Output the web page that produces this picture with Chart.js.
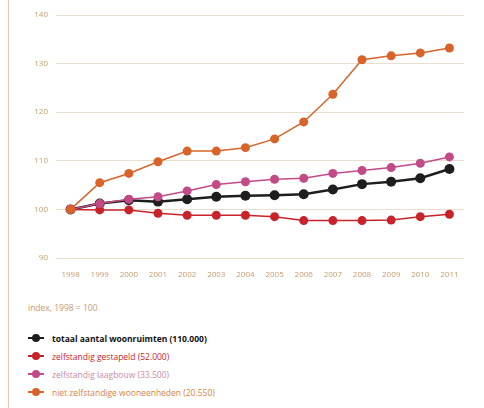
<!DOCTYPE html>
<html>
<head>
<meta charset="utf-8">
<script src="https://cdn.jsdelivr.net/npm/chart.js@4"></script>
<style>
  html, body { margin: 0; padding: 0; background: #fff; }
  #wrap { position: relative; width: 484px; height: 408px; overflow: hidden; }
  #rule { position: absolute; left: 8px; top: 0; width: 1px; height: 408px; background: #e6c9a8; }
  #chartBox { position: absolute; left: 0; top: 0; width: 484px; height: 285px; }
  #note { position: absolute; left: 28px; top: 302px; font: 8.5px "Open Sans", sans-serif; color: #c79a6c; }
  #legend { position: absolute; left: 28px; top: 329px; font-family: "Open Sans", sans-serif; font-size: 8.5px; }
  .item { height: 18px; display: flex; align-items: center; }
  .sym { position: relative; width: 16px; height: 10px; margin-right: 8px; }
  .sym .ln { position: absolute; left: 0; right: 0; top: 4px; height: 2px; }
  .sym .dt { position: absolute; left: 4px; top: 1px; width: 8px; height: 8px; border-radius: 50%; }
</style>
</head>
<body>
<div id="wrap">
  <div id="rule"></div>
  <div id="chartBox"><canvas id="c"></canvas></div>
  <div id="note">index, 1998 = 100</div>
  <div id="legend"></div>
</div>
<script>
// ===== data =====
const years = ["1998","1999","2000","2001","2002","2003","2004","2005","2006","2007","2008","2009","2010","2011"];
const yTicks = [90, 100, 110, 120, 130, 140];

const totaal      = [100, 101.2, 101.9, 101.6, 102.1, 102.6, 102.8, 102.9, 103.1, 104.1, 105.2, 105.7, 106.4, 108.3];
const gestapeld   = [100, 99.9, 99.9, 99.2, 98.8, 98.8, 98.8, 98.5, 97.7, 97.7, 97.7, 97.8, 98.5, 99.0];
const laagbouw    = [100, 101.2, 102.1, 102.6, 103.8, 105.1, 105.7, 106.2, 106.4, 107.4, 108.0, 108.6, 109.5, 110.8];
const nietZelfst  = [100, 105.5, 107.4, 109.8, 112.0, 112.0, 112.7, 114.5, 118.0, 123.7, 130.8, 131.6, 132.2, 133.2];

const seriesNames = [
  "totaal aantal woonruimten (110.000)",
  "zelfstandig gestapeld (52.000)",
  "zelfstandig laagbouw (33.500)",
  "niet zelfstandige wooneenheden (20.550)"
];
const seriesColors = ["#1e1e1e", "#c8232b", "#c24a86", "#d8642a"];
const textColors   = ["#111111", "#c8232b", "#c98aa8", "#d9833f"];

// ===== chart =====
function line(label, data, color, width, r) {
  return {
    label, data,
    borderColor: color, backgroundColor: color,
    borderWidth: width, pointRadius: r, pointHoverRadius: r,
    pointBackgroundColor: color, pointBorderWidth: 0, tension: 0
  };
}

const tickFont = { family: "Open Sans", size: 8 };
const datasets = [
  line(seriesNames[3], nietZelfst, seriesColors[3], 1.5, 4.5),
  line(seriesNames[2], laagbouw, seriesColors[2], 1.5, 4.5),
  line(seriesNames[1], gestapeld, seriesColors[1], 1.5, 4.5),
  line(seriesNames[0], totaal, seriesColors[0], 2.5, 5)
];

new Chart(document.getElementById("c"), {
  type: "line",
  data: { labels: years, datasets },
  options: {
    responsive: true, maintainAspectRatio: false, animation: false,
    layout: { padding: { top: 15, right: 20, left: 0, bottom: 0 } },
    plugins: { legend: { display: false }, tooltip: { enabled: false } },
    scales: {
      x: {
        offset: true,
        grid: { display: false },
        border: { display: false },
        ticks: { color: "#c79a6c", font: tickFont, padding: 4, maxRotation: 0, autoSkip: false },
        afterFit: s => { s.height = 27; }
      },
      y: {
        min: 90, max: 140,
        afterBuildTicks: s => { s.ticks = yTicks.map(v => ({ value: v })); },
        grid: { color: "#eadfcf", lineWidth: 1, drawTicks: false },
        border: { display: false },
        ticks: { color: "#c79a6c", font: tickFont, padding: 8 },
        afterFit: s => { s.width = 56; }
      }
    }
  }
});

// ===== legend (html) =====
const lg = document.getElementById("legend");
seriesNames.forEach((name, i) => {
  const row = document.createElement("div");
  row.className = "item";
  row.innerHTML = '<div class="sym"><div class="ln" style="background:' + seriesColors[i] + '"></div>' +
    '<div class="dt" style="background:' + seriesColors[i] + '"></div></div>' +
    '<span style="color:' + textColors[i] + ';' + (i === 0 ? 'font-weight:bold;' : '') + '">' + name + '</span>';
  lg.appendChild(row);
});
</script>
</body>
</html>
